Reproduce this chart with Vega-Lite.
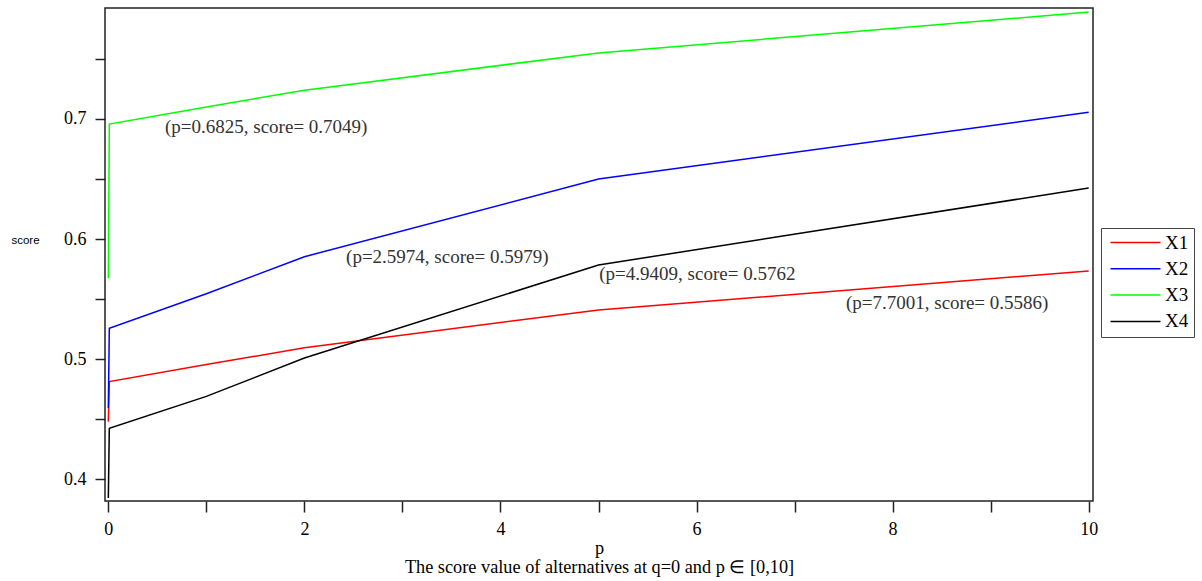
{
  "$schema": "https://vega.github.io/schema/vega-lite/v6.json",
  "width": 988,
  "height": 493,
  "autosize": {"type": "none"},
  "padding": {"left": 105, "top": 8, "right": 109, "bottom": 80},
  "background": "white",
  "config": {
    "view": {"stroke": "#222", "strokeWidth": 1.5},
    "font": "Liberation Serif"
  },
  "datasets": {
    "lines": [
      {"p": 0, "score": 0.448, "series": "X1"},
      {"p": 0.01, "score": 0.4813, "series": "X1"},
      {"p": 1, "score": 0.4955, "series": "X1"},
      {"p": 2, "score": 0.5095, "series": "X1"},
      {"p": 5, "score": 0.541, "series": "X1"},
      {"p": 10, "score": 0.5735, "series": "X1"},
      {"p": 0, "score": 0.4594, "series": "X2"},
      {"p": 0.01, "score": 0.5257, "series": "X2"},
      {"p": 1, "score": 0.5545, "series": "X2"},
      {"p": 2, "score": 0.5853, "series": "X2"},
      {"p": 5, "score": 0.65, "series": "X2"},
      {"p": 10, "score": 0.7055, "series": "X2"},
      {"p": 0, "score": 0.5674, "series": "X3"},
      {"p": 0.01, "score": 0.6958, "series": "X3"},
      {"p": 1, "score": 0.71, "series": "X3"},
      {"p": 2, "score": 0.724, "series": "X3"},
      {"p": 5, "score": 0.755, "series": "X3"},
      {"p": 10, "score": 0.789, "series": "X3"},
      {"p": 0, "score": 0.3844, "series": "X4"},
      {"p": 0.01, "score": 0.4424, "series": "X4"},
      {"p": 1, "score": 0.469, "series": "X4"},
      {"p": 2, "score": 0.501, "series": "X4"},
      {"p": 5, "score": 0.5784, "series": "X4"},
      {"p": 10, "score": 0.6425, "series": "X4"}
    ],
    "labels": [
      {"p": 0.578, "score": 0.6929, "label": "(p=0.6825, score= 0.7049)"},
      {"p": 2.425, "score": 0.5847, "label": "(p=2.5974, score= 0.5979)"},
      {"p": 5.008, "score": 0.5709, "label": "(p=4.9409, score= 0.5762"},
      {"p": 7.524, "score": 0.5464, "label": "(p=7.7001, score= 0.5586)"}
    ]
  },
  "layer": [
    {
      "data": {"name": "lines"},
      "mark": {"type": "line", "strokeWidth": 1.5},
      "encoding": {
        "x": {
          "field": "p",
          "type": "quantitative",
          "scale": {"domain": [-0.034, 10.044], "nice": false, "zero": false},
          "axis": {
            "values": [0, 1, 2, 3, 4, 5, 6, 7, 8, 9, 10],
            "format": "d",
            "labelExpr": "datum.value % 2 == 0 ? datum.label : ''",
            "domain": false,
            "grid": false,
            "tickColor": "#222",
            "tickWidth": 1.5,
            "tickSize": 11,
            "labelFont": "Liberation Serif",
            "labelFontSize": 18,
            "labelColor": "#000",
            "labelPadding": 8,
            "title": ["p", "The score value of alternatives at q=0 and p ∈ [0,10]"],
            "titleFont": "Liberation Serif",
            "titleFontSize": 18.3,
            "titleFontWeight": "normal",
            "titleColor": "#000",
            "titleLineHeight": 19,
            "titlePadding": 1,
            "encode": {"ticks": {"update": {"y2": {"signal": "datum.value % 2 == 0 ? 11 : 6"}}}}
          }
        },
        "y": {
          "field": "score",
          "type": "quantitative",
          "scale": {"domain": [0.3819, 0.7924], "nice": false, "zero": false},
          "axis": {
            "values": [0.4, 0.45, 0.5, 0.55, 0.6, 0.65, 0.7, 0.75],
            "format": ".1f",
            "labelExpr": "round(datum.value*100) % 10 == 0 ? datum.label : ''",
            "domain": false,
            "grid": false,
            "tickColor": "#222",
            "tickWidth": 1.5,
            "tickSize": 10,
            "labelFont": "Liberation Serif",
            "labelFontSize": 18,
            "labelColor": "#000",
            "labelPadding": 9,
            "title": "score",
            "titleAngle": 0,
            "titleX": -80,
            "titleY": 232,
            "titleAlign": "center",
            "titleBaseline": "middle",
            "titleFont": "Liberation Sans",
            "titleFontSize": 11.5,
            "titleFontWeight": "normal",
            "titleColor": "#000",
            "encode": {"ticks": {"update": {"x2": {"signal": "round(datum.value*100) % 10 == 0 ? -10 : -6"}}}}
          }
        },
        "color": {
          "field": "series",
          "type": "nominal",
          "scale": {"domain": ["X1", "X2", "X3", "X4"], "range": ["#ff0000", "#0000ff", "#00ff00", "#000000"]},
          "legend": {
            "orient": "none",
            "legendX": 996,
            "legendY": 220,
            "title": null,
            "symbolType": "M-1,0H9",
            "symbolSize": 100,
            "symbolStrokeWidth": 1.5,
            "labelFont": "Liberation Serif",
            "labelFontSize": 19,
            "labelColor": "#000",
            "labelOffset": 40,
            "rowPadding": 6.3,
            "padding": 5,
            "strokeColor": "#444",
            "fillColor": "white"
          }
        }
      }
    },
    {
      "data": {"name": "labels"},
      "mark": {"type": "text", "align": "left", "baseline": "middle", "fontSize": 19, "font": "Liberation Serif", "color": "#333"},
      "encoding": {
        "x": {"field": "p", "type": "quantitative"},
        "y": {"field": "score", "type": "quantitative"},
        "text": {"field": "label"}
      }
    }
  ]
}
